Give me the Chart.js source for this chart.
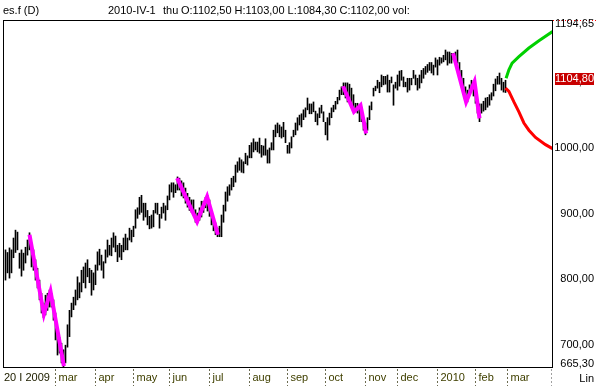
<!DOCTYPE html>
<html>
<head>
<meta charset="utf-8">
<script src="https://cdn.jsdelivr.net/npm/chart.js@4.4.1/dist/chart.umd.min.js"></script>
<style>
  html, body { margin: 0; padding: 0; background: #fff; }
</style>
</head>
<body>
<canvas id="chart" width="597" height="386"></canvas>
<script>
// DATA (daily bars, index 0 = 20 Jan 2009)
const highs = [
  845, 841, 848, 845, 863, 875, 872, 840, 845, 840, 849, 860, 871, 855, 845, 830, 817, 799, 779, 764,
  776, 779, 784, 779, 769, 749, 723, 712, 703, 693, 700, 731, 753, 764, 773, 784, 804, 795, 814, 819,
  825, 830, 817, 814, 810, 822, 842, 846, 837, 827, 845, 860, 852, 863, 871, 866, 852, 855, 852, 863,
  869, 863, 878, 875, 881, 906, 909, 925, 928, 916, 916, 905, 896, 898, 905, 916, 916, 899, 910, 916,
  912, 927, 944, 947, 947, 944, 956, 954, 950, 947, 939, 931, 925, 921, 921, 906, 901, 909, 919, 919,
  925, 928, 921, 903, 892, 886, 878, 881, 898, 913, 933, 941, 944, 954, 957, 974, 979, 985, 982, 979,
  992, 988, 1004, 1008, 1014, 1009, 1009, 1015, 1004, 1003, 1014, 997, 1000, 1008, 1027, 1035, 1038, 1035, 1032, 1039,
  1027, 1004, 1008, 1017, 1027, 1038, 1046, 1050, 1052, 1058, 1061, 1076, 1067, 1067, 1070, 1056, 1052, 1061, 1065, 1055,
  1039, 1046, 1053, 1061, 1065, 1071, 1077, 1088, 1093, 1099, 1099, 1099, 1097, 1091, 1081, 1068, 1068, 1064, 1062, 1046,
  1038, 1046, 1064, 1070, 1091, 1094, 1103, 1100, 1111, 1109, 1109, 1111, 1103, 1108, 1096, 1100, 1111, 1117, 1118, 1108,
  1100, 1106, 1106, 1106, 1118, 1111, 1106, 1111, 1118, 1121, 1124, 1127, 1130, 1130, 1126, 1137, 1134, 1138, 1137, 1141,
  1149, 1146, 1146, 1144, 1144, 1146, 1149, 1130, 1118, 1106, 1093, 1088, 1096, 1103, 1100, 1093, 1073, 1067, 1067, 1071,
  1076, 1077, 1081, 1084, 1097, 1105, 1109, 1114, 1106, 1100, 1103
];
const lows = [
  799, 810, 802, 810, 833, 841, 845, 817, 805, 814, 825, 837, 845, 819, 814, 799, 787, 769, 749, 742,
  746, 753, 758, 758, 738, 708, 685, 688, 673, 665.3, 673, 697, 713, 743, 754, 761, 769, 772, 781, 795,
  787, 804, 795, 776, 784, 792, 814, 822, 814, 802, 825, 834, 837, 836, 849, 842, 827, 834, 830, 842,
  845, 845, 860, 857, 865, 878, 893, 899, 902, 890, 895, 883, 877, 878, 880, 901, 899, 878, 893, 901,
  890, 906, 921, 933, 925, 932, 936, 936, 927, 924, 916, 910, 905, 902, 898, 887, 886, 890, 895, 902,
  909, 904, 896, 883, 874, 868, 865, 865, 865, 887, 904, 919, 928, 936, 941, 948, 963, 966, 963, 962,
  976, 974, 985, 985, 994, 997, 994, 992, 986, 989, 989, 977, 977, 997, 997, 1017, 1023, 1017, 1015, 1017,
  1008, 992, 992, 1000, 1017, 1020, 1027, 1035, 1032, 1043, 1047, 1058, 1052, 1052, 1055, 1040, 1035, 1046, 1053, 1040,
  1020, 1012, 1035, 1046, 1055, 1059, 1067, 1073, 1081, 1081, 1076, 1070, 1073, 1062, 1058, 1055, 1053, 1040, 1040, 1027,
  1020, 1027, 1043, 1058, 1079, 1087, 1091, 1084, 1093, 1096, 1097, 1085, 1085, 1099, 1065, 1091, 1088, 1094, 1103, 1093,
  1093, 1085, 1088, 1096, 1106, 1096, 1088, 1091, 1099, 1106, 1112, 1115, 1118, 1114, 1111, 1123, 1111, 1126, 1129, 1131,
  1134, 1126, 1129, 1129, 1134, 1128, 1129, 1109, 1100, 1085, 1073, 1070, 1081, 1091, 1079, 1068, 1053, 1040, 1053, 1056,
  1058, 1062, 1065, 1073, 1079, 1087, 1097, 1097, 1088, 1085, 1084.3
];

// magenta wave marks (bar index, price)
const wave1X = [12, 19.2, 22.5, 29.2];
const wave1Y = [868, 747, 782, 668];
const wave2X = [85.8, 95.8, 100.8, 106.2];
const wave2Y = [954, 888, 926, 868];
const wave3X = [168.8, 174.2, 177.5, 180.3];
const wave3Y = [1094, 1055, 1065, 1022];
const wave4X = [223.8, 230.3, 234.5, 237];
const wave4Y = [1144, 1070, 1101, 1045];

// projections
const upX = [250.3, 251.7, 253.3, 256.7, 261.7, 266.7, 273.5];
const upY = [1106, 1119, 1129, 1139, 1152, 1163, 1177];
const downX = [250, 251.7, 254.2, 256.7, 259.2, 261.7, 265, 270, 273.5];
const downY = [1091, 1086, 1070, 1055, 1038, 1027, 1016, 1005, 999];

// axis labels
const yTicks = [1194.65, 1100, 1000, 900, 800, 700, 665.30];
const lastPrice = 1104.80;
const monthTicks = [24.5, 44.5, 63.5, 81.5, 101.5, 121.5, 140.5, 159.5, 179.5, 195.5, 215.5, 234.5, 250.5, 272.5];
const monthLabels = ["mar", "apr", "may", "jun", "jul", "aug", "sep", "oct", "nov", "dec", "2010", "feb", "mar", ""];
const firstLabel = "20 I 2009";
const headerParts = [
  ["es.f (D)", 3],
  ["2010-IV-1", 108],
  ["thu", 163],
  ["O:1102,50 H:1103,00 L:1084,30 C:1102,00 vol:", 181]
];

const FONT = '11px "Liberation Sans", Arial, sans-serif';
const fmt = v => v.toFixed(2).replace(".", ",");
const pts = (xs, ys) => xs.map((x, i) => ({ x: x, y: ys[i] }));

const decor = {
  id: "decor",
  afterDraw(chart) {
    const ctx = chart.ctx;
    const { left, right, top, bottom } = chart.chartArea;
    const xs = chart.scales.x, ys = chart.scales.y;
    ctx.save();

    // frame
    ctx.strokeStyle = "#000";
    ctx.lineWidth = 1;
    ctx.strokeRect(left - 0.5, top + 0.5, right - left + 1, bottom - top - 1);

    ctx.font = FONT;
    ctx.fillStyle = "#000";
    ctx.textBaseline = "alphabetic";
    ctx.textAlign = "left";
    headerParts.forEach(p => ctx.fillText(p[0], p[1], 14));

    // red dotted line at top value
    ctx.setLineDash([1, 2]);
    ctx.strokeStyle = "#ff0000";
    ctx.beginPath();
    ctx.moveTo(right + 1, top + 0.5);
    ctx.lineTo(597, top + 0.5);
    ctx.stroke();
    ctx.setLineDash([]);

    // y labels
    ctx.textAlign = "right";
    ctx.textBaseline = "middle";
    ctx.fillStyle = "#000";
    yTicks.forEach(v => {
      let y = ys.getPixelForValue(v);
      y = Math.max(top + 4, Math.min(bottom - 4, y));
      ctx.fillText(fmt(v), 594, y);
    });

    // last price box
    const ly = Math.round(ys.getPixelForValue(lastPrice));
    ctx.fillStyle = "#c80000";
    ctx.fillRect(555, ly - 6, 39, 12);
    ctx.fillStyle = "#fff";
    ctx.fillText(fmt(lastPrice), 594, ly);

    // x labels
    ctx.textAlign = "left";
    ctx.textBaseline = "alphabetic";
    ctx.fillStyle = "#202000";
    ctx.fillText(firstLabel, 4, 381);
    ctx.setLineDash([2, 2]);
    monthTicks.forEach((t, i) => {
      const px = Math.round(xs.getPixelForValue(t)) + 0.5;
      ctx.strokeStyle = monthLabels[i] ? "#6b6b50" : "#a0a0a0";
      ctx.beginPath();
      ctx.moveTo(px, bottom + 1);
      ctx.lineTo(px, 386);
      ctx.stroke();
      if (monthLabels[i]) {
        ctx.fillStyle = "#404000";
        ctx.fillText(monthLabels[i], px + 3, 381);
      }
    });
    ctx.setLineDash([]);

    ctx.fillStyle = "#000";
    ctx.textAlign = "right";
    ctx.fillText("Lin", 594, 382);
    ctx.restore();
  }
};

const waveStyle = { type: "line", borderColor: "#ff00ff", borderWidth: 4, pointRadius: 0, tension: 0, order: 1 };

new Chart(document.getElementById("chart"), {
  type: "bar",
  data: {
    datasets: [
      {
        label: "es.f",
        data: highs.map((h, i) => ({ x: i, y: [lows[i], h] })),
        backgroundColor: "#000",
        borderWidth: 0,
        barThickness: 1,
        order: 2
      },
      Object.assign({ data: pts(wave1X, wave1Y) }, waveStyle),
      Object.assign({ data: pts(wave2X, wave2Y) }, waveStyle),
      Object.assign({ data: pts(wave3X, wave3Y) }, waveStyle),
      Object.assign({ data: pts(wave4X, wave4Y) }, waveStyle),
      { type: "line", data: pts(upX, upY), borderColor: "#00d000", borderWidth: 3, pointRadius: 0, order: 1 },
      { type: "line", data: pts(downX, downY), borderColor: "#ff0000", borderWidth: 3, pointRadius: 0, order: 1 }
    ]
  },
  options: {
    responsive: false,
    animation: false,
    devicePixelRatio: 1,
    layout: { padding: { left: 4, right: 45, top: 20, bottom: 18 } },
    scales: {
      x: { type: "linear", min: -0.75, max: 273.25, offset: false, display: false },
      y: { min: 665.30, max: 1194.65, display: false }
    },
    plugins: { legend: { display: false }, tooltip: { enabled: false } }
  },
  plugins: [decor]
});
</script>
</body>
</html>
